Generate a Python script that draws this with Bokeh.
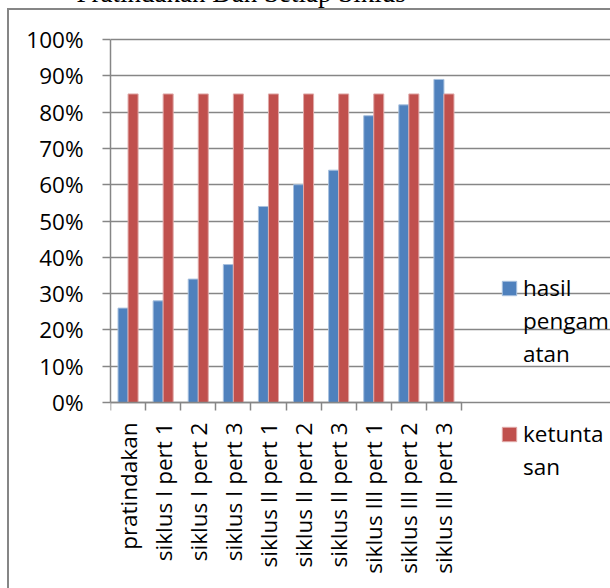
import numpy as np
from bokeh.plotting import figure
from bokeh.models import (ColumnDataSource, FixedTicker, NumeralTickFormatter, Legend,
                          LegendItem, Range1d, Title, InlineStyleSheet)
from bokeh.embed import file_html
from bokeh.resources import INLINE

# ---- data ----
categories = ["pratindakan", "siklus I pert 1", "siklus I pert 2", "siklus I pert 3",
              "siklus II pert 1", "siklus II pert 2", "siklus II pert 3",
              "siklus III pert 1", "siklus III pert 2", "siklus III pert 3"]
hasil_pengamatan = [0.26, 0.28, 0.34, 0.38, 0.54, 0.60, 0.64, 0.79, 0.82, 0.89]
ketuntasan = [0.85, 0.85, 0.85, 0.85, 0.85, 0.85, 0.85, 0.85, 0.85, 0.85]
y_ticks = [0.0, 0.1, 0.2, 0.3, 0.4, 0.5, 0.6, 0.7, 0.8, 0.9, 1.0]
legend_hasil = ["hasil", "pengam", "atan"]      # "hasil pengamatan", wrapped as in the chart
legend_tuntas = ["ketunta", "san"]              # "ketuntasan", wrapped as in the chart
title_text = "Pratindakan Dan Setiap Siklus"

# ---- styling ----
BLUE = "#4F81BD"
RED = "#C0504D"
GRID = "#868686"
FONT = "Open Sans"
FS = "22.5px"
SHIFT = 80          # part of the canvas hidden above the window (holds the cut-off title)
PX_PER_UNIT = 363   # plot height for 0..100 %
AXIS_Y = 402        # window y of the 0 % line
CAT_W = 35.1        # category width in px

n = len(categories)
centers = np.arange(n) + 0.5
bar_w = 1 / 3.5

src = ColumnDataSource(dict(
    x_blue=centers - bar_w / 2,
    x_red=centers + bar_w / 2,
    hasil=hasil_pengamatan,
    tuntas=ketuntasan,
))

frame_left, frame_top = 110, 37
x_end = (610 - frame_left) / CAT_W
y_start = -(588 - AXIS_Y) / PX_PER_UNIT
y_end = (AXIS_Y - frame_top) / PX_PER_UNIT

p = figure(width=610, height=588 + SHIFT, x_range=Range1d(0, x_end),
           y_range=Range1d(y_start, y_end),
           output_backend="svg", toolbar_location=None,
           min_border_left=frame_left, min_border_right=0,
           min_border_top=frame_top + SHIFT, min_border_bottom=0)
p.outline_line_color = None
p.background_fill_color = "white"
p.border_fill_color = "white"
p.styles = {"margin-top": f"-{SHIFT}px", "position": "relative"}
p.stylesheets = [InlineStyleSheet(css=f"""
:host::after {{
  content: "";
  position: absolute;
  left: 7px;
  top: {SHIFT + 8}px;
  width: 603px;
  height: 580px;
  box-sizing: border-box;
  border-left: 2px solid {GRID};
  border-top: 2px solid {GRID};
  pointer-events: none;
}}
""")]

r1 = p.vbar(x="x_blue", top="hasil", width=bar_w, source=src,
            fill_color=BLUE, line_color="#A7C0DE", line_width=1)
r2 = p.vbar(x="x_red", top="tuntas", width=bar_w, source=src,
            fill_color=RED, line_color="#E0A9A8", line_width=1)

# y axis
p.yaxis.bounds = (0, 1)
p.yaxis.ticker = FixedTicker(ticks=y_ticks, minor_ticks=[])
p.yaxis.formatter = NumeralTickFormatter(format="0%")
p.yaxis.major_tick_out = 8
p.yaxis.major_tick_in = 0
p.yaxis.minor_tick_out = 0
p.yaxis.minor_tick_in = 0
p.yaxis.major_label_standoff = 19
p.yaxis.axis_line_color = GRID
p.yaxis.axis_line_width = 1.5
p.yaxis.major_tick_line_color = GRID
p.yaxis.major_tick_line_width = 1.5
p.yaxis.major_label_text_font = FONT
p.yaxis.major_label_text_font_size = FS
p.yaxis.major_label_text_color = "black"

# x axis at the 0 % line: labels at centers, ticks at category boundaries
p.xaxis.fixed_location = 0
p.xaxis.bounds = (0, n)
p.xaxis.ticker = FixedTicker(ticks=list(centers), minor_ticks=list(range(n + 1)))
p.xaxis.major_label_overrides = {float(c): cat for c, cat in zip(centers, categories)}
p.xaxis.major_tick_out = 0
p.xaxis.major_tick_in = 0
p.xaxis.minor_tick_out = 8
p.xaxis.minor_tick_in = 0
p.xaxis.minor_tick_line_color = GRID
p.xaxis.minor_tick_line_width = 1.5
p.xaxis.axis_line_color = GRID
p.xaxis.axis_line_width = 1.5
p.xaxis.major_label_orientation = np.pi / 2
p.xaxis.major_label_standoff = 12
p.xaxis.major_label_text_font = FONT
p.xaxis.major_label_text_font_size = FS
p.xaxis.major_label_text_color = "black"

p.xgrid.visible = False
p.ygrid.bounds = (0, n)
p.ygrid.ticker = FixedTicker(ticks=y_ticks, minor_ticks=[])
p.ygrid.grid_line_color = GRID
p.ygrid.grid_line_width = 1.5

# legend (two blocks, each wrapped over several lines)
common = dict(padding=0, margin=0, spacing=2, glyph_width=18, glyph_height=18,
              label_height=30, label_standoff=5, label_text_font=FONT,
              label_text_font_size=FS, label_text_color="black",
              border_line_color=None, background_fill_alpha=0)
leg_a = Legend(items=[LegendItem(label=legend_hasil[0], renderers=[r1])] +
                     [LegendItem(label=t, renderers=[]) for t in legend_hasil[1:]],
               location=(390, 219), **common)
leg_b = Legend(items=[LegendItem(label=legend_tuntas[0], renderers=[r2])] +
                     [LegendItem(label=t, renderers=[]) for t in legend_tuntas[1:]],
               location=(390, 106), **common)
p.add_layout(leg_a)
p.add_layout(leg_b)

# chart title (cut off at the top of the window)
p.title = Title(text=title_text, align="left", offset=-34, standoff=60,
                text_font="Liberation Serif", text_font_size="27px",
                text_font_style="normal", text_color="black")

open("out.html", "w").write(file_html(p, INLINE))
